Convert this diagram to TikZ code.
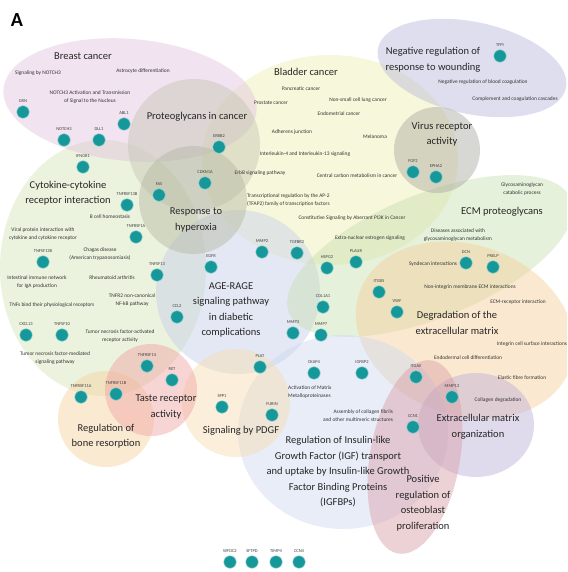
\documentclass[tikz,border=0pt]{standalone}
\usepackage{fontspec}
\setmainfont{Carlito}
\usetikzlibrary{positioning}
\definecolor{dotteal}{HTML}{16989A}
\definecolor{breastc}{HTML}{E0C2DE}
\definecolor{proteoc}{HTML}{C4C4B2}
\definecolor{bladderc}{HTML}{EFEFB0}
\definecolor{woundc}{HTML}{B8B8DC}
\definecolor{virusc}{HTML}{A8A89E}
\definecolor{ecmpc}{HTML}{C8E0B0}
\definecolor{degc}{HTML}{F5CF98}
\definecolor{orgc}{HTML}{BCADD8}
\definecolor{osteoc}{HTML}{D99CA4}
\definecolor{agec}{HTML}{C5CEEB}
\definecolor{cytoc}{HTML}{D3E4B6}
\definecolor{hyperc}{HTML}{B4B8A2}
\definecolor{tastec}{HTML}{F0A2A2}
\definecolor{bonec}{HTML}{F5D29C}
\definecolor{pdgfc}{HTML}{F7DDB0}
\definecolor{igfc}{HTML}{CCD8F0}
\begin{document}
\begin{tikzpicture}[x=1pt, y=-1pt,
    set/.style={fill opacity=.45},
    gene/.style={circle, fill=dotteal, draw=dotteal!45!white, line width=.5pt, minimum size=12.5pt, inner sep=0pt},
    glabel/.style={font=\fontsize{4.5}{5}\selectfont, text=black!75, inner sep=0pt},
    term/.style={font=\fontsize{5.4}{7.8}\selectfont, text=black!80, align=center, inner sep=0pt},
    setname/.style={font=\fontsize{10.5}{15.5}\selectfont, text=black!85, align=center, inner sep=0pt}]
\clip (0,0) rectangle (567,572);
\fill[white] (0,0) rectangle (567,572);

% gene sets
\fill[set, bladderc] (330,160) ellipse [x radius=128, y radius=105];
\fill[set, cytoc] (103,268) ellipse [x radius=103, y radius=128];
\fill[set, breastc, rotate around={-5:(130,100)}] (130,100) ellipse [x radius=127, y radius=61];
\fill[set, agec] (238,292) circle [radius=82];
\fill[set, ecmpc, rotate around={22:(430,256)}] (430,256) ellipse [x radius=152, y radius=62];
\fill[set, degc, rotate around={-20:(465,330)}] (465,330) ellipse [x radius=112, y radius=85];
\fill[set, igfc] (343,432) ellipse [x radius=105, y radius=97];
\fill[set, pdgfc] (236,403) circle [radius=54];
\fill[set, bonec] (106,419) circle [radius=48];
\fill[set, tastec] (151,390) circle [radius=46];
\fill[set, proteoc] (194,145) circle [radius=66];
\fill[set, hyperc] (193,200) circle [radius=54];
\fill[set, woundc, rotate around={-12:(472,68)}] (472,68) ellipse [x radius=96, y radius=46];
\fill[set, virusc] (437,150) circle [radius=43];
\fill[set, orgc] (476,425) ellipse [x radius=58, y radius=52];
\fill[set, osteoc, rotate around={-10:(415,457)}] (415,457) ellipse [x radius=45, y radius=98];

\node[font=\fontsize{20}{20}\selectfont\bfseries] (panel) at (17,20) {A};

% set names
\node[setname] (breast) at (83,56) {Breast cancer};
\node[setname] (proteo) at (197,117) {Proteoglycans in cancer};
\node[setname] (bladder) at (306,72) {Bladder cancer};
\node[setname] (wound) at (433,60) {Negative regulation of\\response to wounding};
\node[setname] (virus) at (442,134) {Virus receptor\\activity};
\node[setname] (cyto) at (68,193) {Cytokine-cytokine\\receptor interaction};
\node[setname] (hyper) at (196,220) {Response to\\hyperoxia};
\node[setname] (ecmp) at (502,212) {ECM proteoglycans};
\node[setname] (age) at (231,310) {AGE-RAGE\\signaling pathway\\in diabetic\\complications};
\node[setname] (deg) at (457,323) {Degradation of the\\extracellular matrix};
\node[setname] (org) at (478,427) {Extracellular matrix\\organization};
\node[setname] (osteo) at (423,503) {Positive\\regulation of\\osteoblast\\proliferation};
\node[setname] (taste) at (166,407) {Taste receptor\\activity};
\node[setname] (bone) at (106,436) {Regulation of\\bone resorption};
\node[setname] (pdgf) at (241,431) {Signaling by PDGF};
\node[setname] (igf) at (338,472) {Regulation of Insulin-like\\Growth Factor (IGF) transport\\and uptake by Insulin-like Growth\\Factor Binding Proteins\\(IGFBPs)};

% pathway terms
\node[term] (notchsig) at (38,73) {Signaling by NOTCH3};
\node[term] (astro) at (143,71) {Astrocyte differentiation};
\node[term] (notchact) at (90,97) {NOTCH3 Activation and Transmission\\of Signal to the Nucleus};
\node[term] (pancr) at (301,89) {Pancreatic cancer};
\node[term] (prost) at (271,103) {Prostate cancer};
\node[term] (nsclc) at (358,100) {Non-small cell lung cancer};
\node[term] (endom) at (339,114) {Endometrial cancer};
\node[term] (adher) at (292,132) {Adherens junction};
\node[term] (melan) at (375,137) {Melanoma};
\node[term] (il4) at (305,154) {Interleukin-4 and Interleukin-13 signaling};
\node[term] (erbbsig) at (260,173) {ErbB signaling pathway};
\node[term] (carbon) at (357,176) {Central carbon metabolism in cancer};
\node[term, align=left, anchor=west] (tfap) at (247,200) {Transcriptional regulation by the AP-2\\(TFAP2) family of transcription factors};
\node[term] (pi3k) at (352,218) {Constitutive Signaling by Aberrant PI3K in Cancer};
\node[term] (estro) at (370,238) {Extra-nuclear estrogen signaling};
\node[term] (coag) at (483,82) {Negative regulation of blood coagulation};
\node[term] (compl) at (515,99) {Complement and coagulation cascades};
\node[term] (gag) at (522,189) {Glycosaminoglycan\\catabolic process};
\node[term] (gagdis) at (458,235) {Diseases associated with\\glycosaminoglycan metabolism};
\node[term] (synd) at (433,264) {Syndecan interactions};
\node[term] (nonint) at (470,287) {Non-integrin membrane ECM interactions};
\node[term] (ecmrec) at (518,302) {ECM-receptor interaction};
\node[term] (integ) at (532,344) {Integrin cell surface interactions};
\node[term] (endod) at (468,358) {Endodermal cell differentiation};
\node[term] (elast) at (522,378) {Elastic fibre formation};
\node[term] (colldeg) at (498,400) {Collagen degradation};
\node[term] (bcell) at (110,217) {B cell homeostasis};
\node[term] (viral) at (43,234) {Viral protein interaction with\\cytokine and cytokine receptor};
\node[term] (chagas) at (100,254) {Chagas disease\\(American trypanosomiasis)};
\node[term] (iga) at (37,282) {Intestinal immune network\\for IgA production};
\node[term] (rheum) at (112,278) {Rheumatoid arthritis};
\node[term] (tnfr2) at (132,300) {TNFR2 non-canonical\\NF-kB pathway};
\node[term] (tnfbind) at (52,305) {TNFs bind their physiological receptors};
\node[term] (tnfact) at (120,336) {Tumor necrosis factor-activated\\receptor activity};
\node[term] (tnfmed) at (55,358) {Tumor necrosis factor-mediated\\signaling pathway};
\node[term, align=left, anchor=west] (mmpact) at (288,392) {Activation of Matrix\\Metalloproteinases};
\node[term, align=right] (collasm) at (358,416) {Assembly of collagen fibrils\\and other multimeric structures};

% genes
\foreach \g/\x/\y in {GRN/23/112, NOTCH3/64/140, DLL1/99/140, ABL1/124/124, IFNGR1/83/167,
    ERBB2/219/147, CDKN1A/205/183, FAS/159/195, TNFRSF13B/127/205, TNFRSF1A/136/237,
    TNFSF13B/43/262, TNFSF13/157/275, CCL2/177/317, CXCL13/26/335, TNFSF10/62/335,
    TNFRSF14/147/366, RET/172/380, TNFRSF11B/116/394, TNFRSF11A/81/397,
    EGFR/211/267, MMP2/262/252, TGFBR2/297/253, HSPG2/327/268, PLAUR/356/262,
    COL1A1/323/307, MMP3/293/333, MMP7/321/335, PLAT/260/367, CKAP4/314/373,
    IGFBP2/362/373, SPP1/222/407, FURIN/272/415, ITGB5/379/292, VWF/397/312,
    DCN/466/263, PRELP/493/267, FGF2/413/172, EPHA2/436/177, TFPI/500/56,
    ITGAV/416/377, MMP12/452/397, CCN1/413/427,
    WFDC2/230/562, SFTPD/252/562, TIMP4/276/562, CCN4/299/562}
{
    \node[gene] (\g) at (\x,\y) {};
    \node[glabel, above=2.5pt of \g] (\g-l) {\g};
}
\end{tikzpicture}
\end{document}
